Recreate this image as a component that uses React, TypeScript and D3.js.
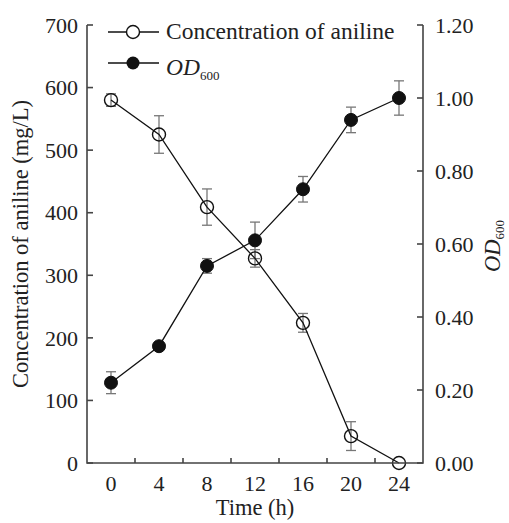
import * as d3 from 'd3'

const times = [0, 4, 8, 12, 16, 20, 24]
const aniline = [580, 525, 409, 327, 224, 43, 0]
const anilineErr = [10, 30, 29, 14, 15, 23, 0]
const od600 = [0.22, 0.32, 0.54, 0.61, 0.75, 0.94, 1.0]
const odErr = [0.03, 0.01, 0.02, 0.05, 0.035, 0.035, 0.047]
const leftTicks = [0, 100, 200, 300, 400, 500, 600, 700]
const rightTicks = [0, 0.2, 0.4, 0.6, 0.8, 1.0, 1.2]
const xLabels = [0, 4, 8, 12, 16, 20, 24]
const xMinorTicks = [2, 6, 10, 14, 18, 22]

const W = 509
const H = 523
const left = 87
const right = 423
const top = 25
const bottom = 463
const font = "'Liberation Serif', 'DejaVu Serif', serif"
const axisColor = '#444'
const errColor = '#777'
const textColor = '#222'

export default function App() {
  const x = d3.scaleLinear().domain([-2, 26]).range([left, right])
  const yL = d3.scaleLinear().domain([0, 700]).range([bottom, top])
  const yR = d3.scaleLinear().domain([0, 1.2]).range([bottom, top])

  const lineL = d3.line<number>().x((_, i) => x(times[i])).y(d => yL(d))
  const lineR = d3.line<number>().x((_, i) => x(times[i])).y(d => yR(d))

  const cap = 5
  const r = 6.5

  // vertical error bar with caps
  const errBar = (cx: number, y1: number, y2: number, key: string) => (
    <g key={key} stroke={errColor} strokeWidth={1.3}>
      <line x1={cx} x2={cx} y1={y1} y2={y2} />
      <line x1={cx - cap} x2={cx + cap} y1={y1} y2={y1} />
      <line x1={cx - cap} x2={cx + cap} y1={y2} y2={y2} />
    </g>
  )

  return (
    <div style={{ position: 'absolute', left: 0, top: 0 }}>
      <svg width={W} height={H} style={{ display: 'block', background: '#fff', fontFamily: font }}>
        {aniline.map((v, i) =>
          anilineErr[i] > 0 ? errBar(x(times[i]), yL(v + anilineErr[i]), yL(v - anilineErr[i]), 'ea' + i) : null
        )}
        {od600.map((v, i) => errBar(x(times[i]), yR(v + odErr[i]), yR(v - odErr[i]), 'eo' + i))}

        <path d={lineL(aniline) || ''} fill="none" stroke="#111" strokeWidth={1.3} />
        <path d={lineR(od600) || ''} fill="none" stroke="#111" strokeWidth={1.3} />

        {aniline.map((v, i) => (
          <circle key={'ca' + i} cx={x(times[i])} cy={yL(v)} r={r} fill="none" stroke="#111" strokeWidth={1.4} />
        ))}
        {od600.map((v, i) => (
          <circle key={'co' + i} cx={x(times[i])} cy={yR(v)} r={r} fill="#111" stroke="#111" strokeWidth={1} />
        ))}

        {/* axes frame (no top line), ticks point inward */}
        <g stroke={axisColor} strokeWidth={1.6} fill="none">
          <path d={`M${left},${top}V${bottom}H${right}V${top}`} />
          {leftTicks.map(t => (
            <line key={'lt' + t} x1={left} x2={left + 6} y1={yL(t)} y2={yL(t)} />
          ))}
          {rightTicks.map(t => (
            <line key={'rt' + t} x1={right} x2={right - 6} y1={yR(t)} y2={yR(t)} />
          ))}
          {xMinorTicks.map(t => (
            <line key={'xt' + t} x1={x(t)} x2={x(t)} y1={bottom} y2={bottom - 5} />
          ))}
        </g>

        <g fontSize={22} fill={textColor}>
          {leftTicks.map(t => (
            <text key={'ll' + t} x={left - 9} y={yL(t)} dy="0.35em" textAnchor="end">{t}</text>
          ))}
          {rightTicks.map(t => (
            <text key={'rl' + t} x={right + 12} y={yR(t)} dy="0.35em" textAnchor="start">{t.toFixed(2)}</text>
          ))}
          {xLabels.map(t => (
            <text key={'xl' + t} x={x(t)} y={491} textAnchor="middle">{t}</text>
          ))}
          <text x={(left + right) / 2} y={515} textAnchor="middle" fontSize={22.5}>Time (h)</text>
          <text transform={`translate(28,${(top + bottom) / 2}) rotate(-90)`} textAnchor="middle" fontSize={22.5}>
            Concentration of aniline (mg/L)
          </text>
          <text transform={`translate(500,246) rotate(-90)`} textAnchor="middle" fontSize={22.5}>
            <tspan fontStyle="italic">OD</tspan>
            <tspan fontSize={13} dy={4}>600</tspan>
          </text>
        </g>

        {/* legend */}
        <g fill={textColor}>
          <line x1={108} x2={159} y1={32} y2={32} stroke="#111" strokeWidth={1.3} />
          <circle cx={133} cy={32} r={r} fill="#fff" stroke="#111" strokeWidth={1.4} />
          <text x={166} y={39} fontSize={23.5}>Concentration of aniline</text>
          <line x1={108} x2={159} y1={63} y2={63} stroke="#111" strokeWidth={1.3} />
          <circle cx={133} cy={63} r={r} fill="#111" />
          <text x={166} y={75} fontSize={23.5}>
            <tspan fontStyle="italic">OD</tspan>
            <tspan fontSize={13} dy={5}>600</tspan>
          </text>
        </g>
      </svg>
    </div>
  )
}
